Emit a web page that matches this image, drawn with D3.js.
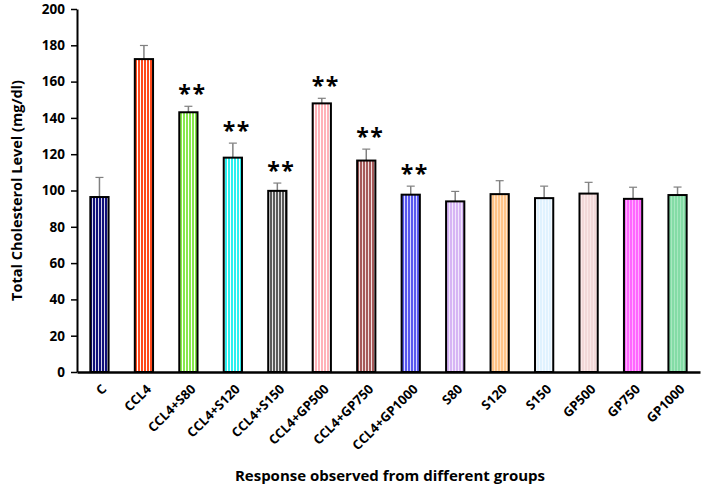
<!DOCTYPE html>
<html>
<head>
<meta charset="utf-8">
<script src="https://cdn.jsdelivr.net/npm/d3@7"></script>
<style>
  html, body { margin: 0; padding: 0; background: #fff; }
  svg { display: block; }
</style>
</head>
<body>
<svg id="chart" width="703" height="491"></svg>
<script>
const categories = ["C", "CCL4", "CCL4+S80", "CCL4+S120", "CCL4+S150", "CCL4+GP500", "CCL4+GP750", "CCL4+GP1000", "S80", "S120", "S150", "GP500", "GP750", "GP1000"];
const means  = [96.4, 172.4, 143.1, 118.1, 99.8, 148.0, 116.5, 97.7, 94.0, 98.0, 95.8, 98.3, 95.4, 97.5];
const errors = [10.8, 7.5, 3.3, 8.0, 4.3, 2.8, 6.3, 4.7, 5.5, 7.4, 6.6, 6.2, 6.4, 4.4];
const significant = [false, false, true, true, true, true, true, true, false, false, false, false, false, false];
const stripeColors = ["#10107a", "#ff4a1c", "#88e84c", "#2ef0f0", "#5a5a5a", "#ffb2b8", "#a65a5a", "#5858ee", "#d6b4f4", "#ffc488", "#e0f2fe", "#f2d8d8", "#ff66ff", "#84dca6"];
const gapColors = ["#d8d8e8", "#ffffff", "#ffffff", "#ffffff", "#e4e4e4", "#ffffff", "#f0e0e0", "#d8d8ff", "#f2e8fc", "#ffe4c8", "#f4faff", "#fae8e8", "#ffb0ff", "#a8e8c0"];
const yTicks = [0, 20, 40, 60, 80, 100, 120, 140, 160, 180, 200];
const yTitle = "Total Cholesterol Level (mg/dl)";
const xTitle = "Response observed from different groups";

const FONT = "'Open Sans', 'Noto Sans', sans-serif";
const svg = d3.select("#chart");
const margin = {left: 77, right: 3, top: 9, bottom: 119};
const W = 703, H = 491;

const x = d3.scaleBand().domain(categories).range([margin.left, W - margin.right]).paddingInner(0.59).paddingOuter(0.3);
const y = d3.scaleLinear().domain([0, 200]).range([H - margin.bottom, margin.top]);

// patterns
const defs = svg.append("defs");
categories.forEach((c, i) => {
  const p = defs.append("pattern").attr("id", "pat" + i).attr("patternUnits", "userSpaceOnUse")
    .attr("width", 3).attr("height", 10);
  p.append("rect").attr("width", 3).attr("height", 10).attr("fill", gapColors[i]);
  p.append("rect").attr("x", 0).attr("width", 2).attr("height", 10).attr("fill", stripeColors[i]);
});

// error bars
const eg = svg.append("g");
categories.forEach((c, i) => {
  const cx = x(c) + x.bandwidth() / 2;
  eg.append("line").attr("x1", cx).attr("x2", cx).attr("y1", y(means[i])).attr("y2", y(means[i] + errors[i]))
    .attr("stroke", "#808080").attr("stroke-width", 1.5);
  eg.append("line").attr("x1", cx - 4).attr("x2", cx + 4).attr("y1", y(means[i] + errors[i])).attr("y2", y(means[i] + errors[i]))
    .attr("stroke", "#808080").attr("stroke-width", 1.2);
});

// bars
svg.append("g").selectAll("rect").data(categories).join("rect")
  .attr("x", d => x(d))
  .attr("y", (d, i) => y(means[i]))
  .attr("width", x.bandwidth())
  .attr("height", (d, i) => y(0) - y(means[i]))
  .attr("fill", (d, i) => `url(#pat${i})`)
  .attr("stroke", "#000").attr("stroke-width", 2);

// significance
svg.append("g").selectAll("text").data(categories.filter((c, i) => significant[i])).join("text")
  .attr("x", d => x(d) + x.bandwidth() / 2 + 4)
  .attr("y", d => { const i = categories.indexOf(d); return y(means[i] + errors[i]) - 4; })
  .attr("text-anchor", "middle")
  .attr("font-family", FONT).attr("font-weight", "bold").attr("font-size", 23)
  .attr("letter-spacing", 1.5)
  .text("**");

// y axis
const yAxis = d3.axisLeft(y).tickValues(yTicks).tickSize(6).tickSizeOuter(0).tickPadding(6);
const yg = svg.append("g").attr("transform", `translate(${margin.left},0)`).call(yAxis);
yg.attr("font-family", FONT).attr("font-size", 13.5).attr("font-weight", "bold");
yg.select(".domain").attr("stroke", "#000").attr("stroke-width", 2);
yg.selectAll("line").attr("stroke", "#000").attr("stroke-width", 1.5);
yg.selectAll("text").attr("fill", "#000");

// x axis with rotated labels
const xAxis = d3.axisBottom(x).tickSize(0).tickSizeOuter(0).tickPadding(0);
const xg = svg.append("g").attr("transform", `translate(0,${y(0)})`).call(xAxis);
xg.attr("font-family", FONT).attr("font-size", 13).attr("font-weight", "bold");
xg.select(".domain").attr("stroke", "#000").attr("stroke-width", 2.5);
xg.selectAll(".tick text")
  .attr("fill", "#000")
  .attr("y", 0).attr("dy", null)
  .attr("text-anchor", "end")
  .attr("transform", "translate(8,18) rotate(-45)");

// titles
svg.append("text").attr("transform", `translate(22,${(y(0) + y(200)) / 2}) rotate(-90)`)
  .attr("text-anchor", "middle").attr("font-family", FONT).attr("font-weight", "bold").attr("font-size", 14.5).text(yTitle);
svg.append("text").attr("x", 390).attr("y", 481)
  .attr("text-anchor", "middle").attr("font-family", FONT).attr("font-weight", "bold").attr("font-size", 15).text(xTitle);
</script>
</body>
</html>
